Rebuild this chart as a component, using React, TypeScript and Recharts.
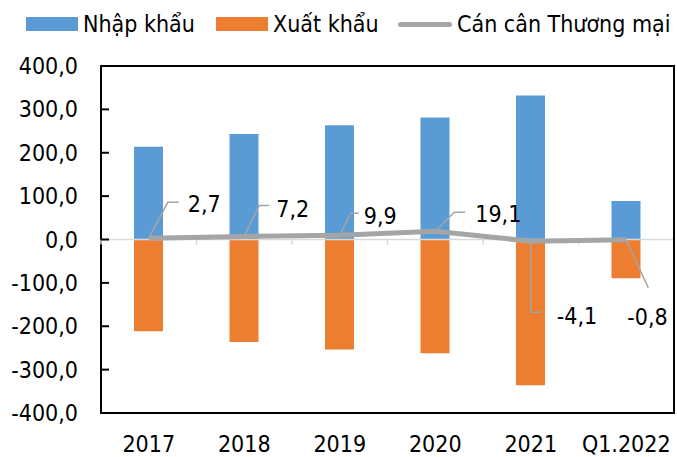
import React from 'react'
import { ComposedChart, Bar, Line, XAxis, YAxis, ReferenceLine, ReferenceArea, LabelList } from 'recharts'

const categories = ['2017', '2018', '2019', '2020', '2021', 'Q1.2022']
const importValues = [214.0, 243.5, 263.5, 281.5, 332.2, 88.6]
const exportValues = [-211.3, -236.3, -253.6, -262.4, -336.3, -89.4]
const balanceValues = [2.7, 7.2, 9.9, 19.1, -4.1, -0.8]
const yTicks = [-400, -300, -200, -100, 0, 100, 200, 300, 400]

const data = categories.map((c, i) => ({
  name: c,
  nhap: importValues[i],
  xuat: exportValues[i],
  canCan: balanceValues[i],
}))

const FONT = '"DejaVu Sans Condensed", "DejaVu Sans", sans-serif'
const FS = 23
const BLUE = '#5B9BD5'
const ORANGE = '#ED7D31'
const GRAY = '#A5A5A5'

// leader line + text offsets for each balance label (relative to the point)
const labelLayout = [
  { path: [[0, 0], [19, -36], [30, -36]], tx: 39, ty: -34 },
  { path: [[0, 0], [15, -31], [25, -31]], tx: 32, ty: -27 },
  { path: [[0, 0], [11, -22], [19, -22]], tx: 24, ty: -19 },
  { path: [[0, 0], [19, -19], [30, -19]], tx: 40, ty: -17 },
  { path: [[0, 0], [0, 71], [11, 71]], tx: 26, ty: 75 },
  { path: [[0, 0], [22, 48]], tx: 1, ty: 77 },
]

const fmt = (v: number) => v.toFixed(1).replace('.', ',')

function BalanceLabel(props: any) {
  const { x, y, value, index } = props
  const l = labelLayout[index]
  if (!l) return null
  const pts = l.path.map(p => `${x + p[0]},${y + p[1]}`).join(' ')
  return (
    <g>
      <polyline points={pts} fill="none" stroke={GRAY} strokeWidth={1.5} />
      <text x={x + l.tx} y={y + l.ty} textAnchor="start" dominantBaseline="central"
        fontFamily={FONT} fontSize={FS} fill="#000">{fmt(value)}</text>
    </g>
  )
}

function YTick(props: any) {
  const { x, y, payload } = props
  return (
    <g>
      <line x1={x} y1={y} x2={x + 8} y2={y} stroke="#000" strokeWidth={2} />
      <text x={x - 23} y={y} textAnchor="end" dominantBaseline="central" fontFamily={FONT} fontSize={FS} fill="#000">
        {fmt(payload.value)}
      </text>
    </g>
  )
}

function XTick(props: any) {
  const { x, y, payload } = props
  return (
    <text x={x} y={y + 31} textAnchor="middle" dominantBaseline="central" fontFamily={FONT} fontSize={FS} fill="#000">
      {payload.value}
    </text>
  )
}

function ZeroLine(props: any) {
  const { x1, x2, y1 } = props
  const n = categories.length
  const step = (x2 - x1) / n
  const ticks = []
  for (let i = 0; i < n; i++) ticks.push(x1 + i * step)
  return (
    <g>
      <line x1={x1} y1={y1} x2={x2 - 1} y2={y1} stroke="#D9D9D9" strokeWidth={1.5} />
      {ticks.map((t, i) => (
        <line key={i} x1={t} y1={y1} x2={t} y2={y1 + 5} stroke="#D9D9D9" strokeWidth={1.5} />
      ))}
    </g>
  )
}

function LegendBox() {
  const item = { display: 'flex', alignItems: 'center', position: 'absolute' as const, top: 11 }
  const txt = { fontFamily: FONT, fontSize: FS, color: '#000', marginLeft: 5, whiteSpace: 'nowrap' as const }
  return (
    <>
      <div style={{ ...item, left: 26 }}>
        <div style={{ width: 52, height: 14, background: BLUE }} />
        <span style={txt}>Nhập khẩu</span>
      </div>
      <div style={{ ...item, left: 216 }}>
        <div style={{ width: 52, height: 14, background: ORANGE }} />
        <span style={txt}>Xuất khẩu</span>
      </div>
      <div style={{ ...item, left: 398 }}>
        <div style={{ width: 54, height: 5, background: GRAY, borderRadius: 3 }} />
        <span style={txt}>Cán cân Thương mại</span>
      </div>
    </>
  )
}

export default function App() {
  return (
    <div style={{ position: 'absolute', left: 0, top: 0, width: 677, height: 457, background: '#fff' }}>
      <ComposedChart width={677} height={457} data={data} stackOffset="sign"
        margin={{ top: 66, right: 3, bottom: 0, left: 0 }}>
        <XAxis dataKey="name" height={44} axisLine={false} tickLine={false} tickSize={0} tickMargin={0} tick={<XTick />} interval={0} />
        <YAxis width={101} domain={[-400, 400]} ticks={yTicks} axisLine={false} tickLine={false}
          tickSize={0} tickMargin={0} tick={<YTick />} allowDataOverflow />
        <ReferenceLine y={0} shape={<ZeroLine />} />
        <Bar dataKey="nhap" stackId="a" fill={BLUE} barSize={29} isAnimationActive={false} />
        <Bar dataKey="xuat" stackId="a" fill={ORANGE} barSize={29} isAnimationActive={false} />
        <Line dataKey="canCan" type="linear" stroke={GRAY} strokeWidth={5} dot={false} isAnimationActive={false}>
          <LabelList dataKey="canCan" content={<BalanceLabel />} />
        </Line>
        <ReferenceArea y1={-400} y2={400} fill="none" stroke="#000" strokeWidth={2} ifOverflow="visible" />
      </ComposedChart>
      <LegendBox />
    </div>
  )
}
